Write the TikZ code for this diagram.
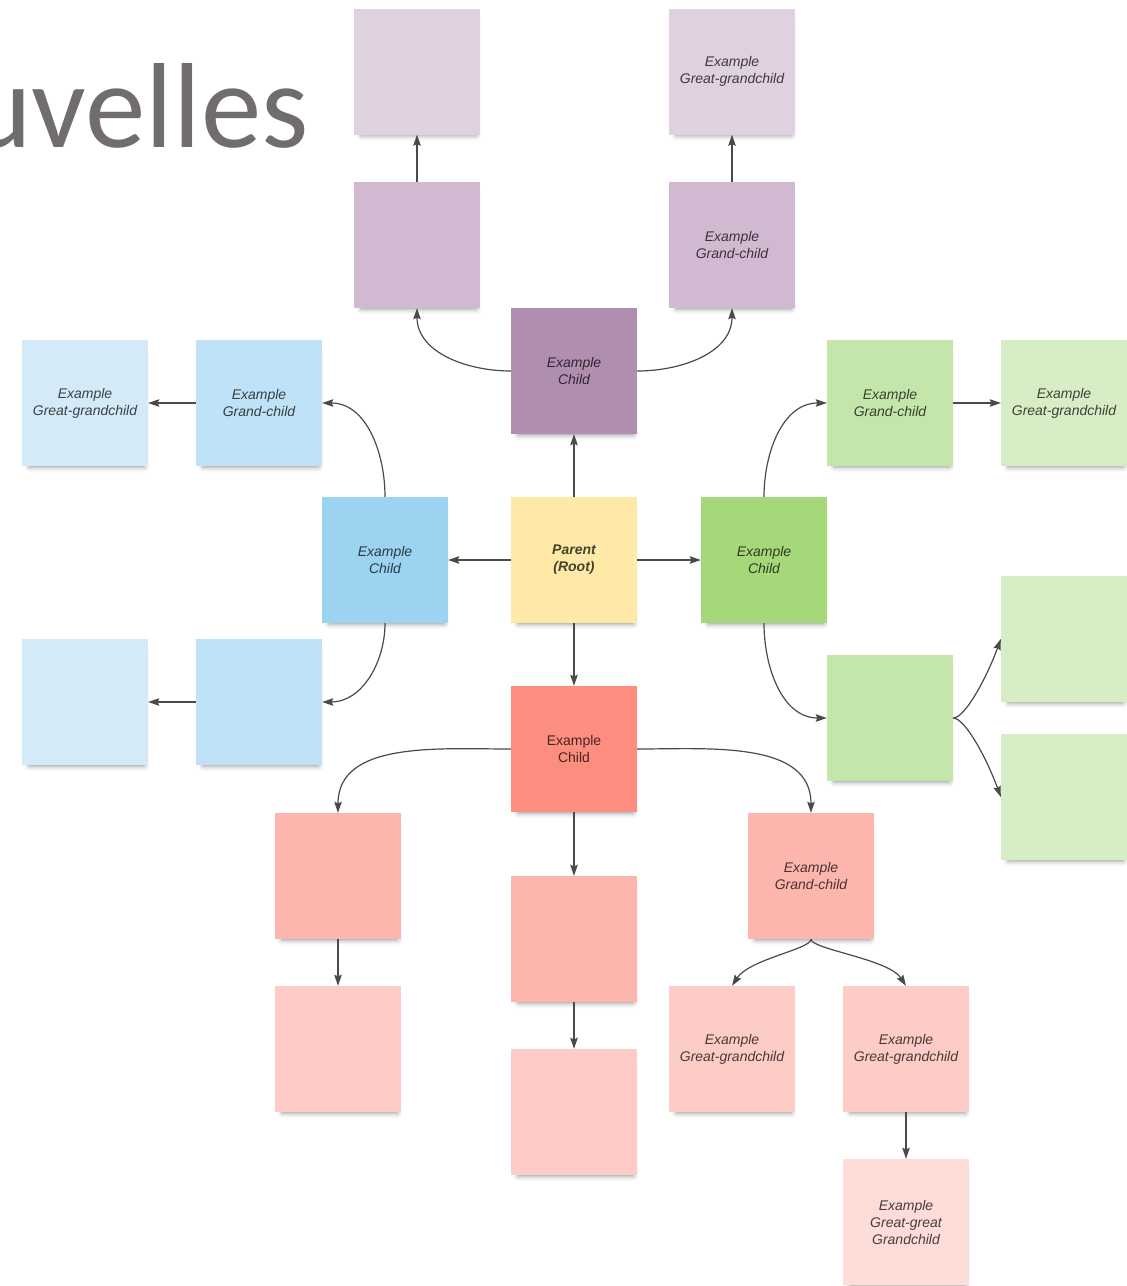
\documentclass[tikz,border=0pt]{standalone}
\usepackage{fontspec}
\setmainfont{Liberation Sans}
\newfontfamily\headingfont{Carlito}
\usetikzlibrary{arrows.meta,shadows.blur}

% palette
\definecolor{titlegray}{HTML}{716D6D}
\definecolor{linkgray}{HTML}{4A4A4A}
\definecolor{rootfill}{HTML}{FEE9A6}
\definecolor{purA}{HTML}{B08EB0}
\definecolor{purB}{HTML}{D2B9D2}
\definecolor{purC}{HTML}{DFD1E0}
\definecolor{bluA}{HTML}{9BD3F1}
\definecolor{bluB}{HTML}{BFE2F6}
\definecolor{bluC}{HTML}{D4EAF8}
\definecolor{grnA}{HTML}{A5D879}
\definecolor{grnB}{HTML}{C5E6AB}
\definecolor{grnC}{HTML}{D7EDC6}
\definecolor{redA}{HTML}{FD8D7E}
\definecolor{redB}{HTML}{FDB6AD}
\definecolor{redC}{HTML}{FDCCC7}
\definecolor{redD}{HTML}{FEDCD8}

\begin{document}
\begin{tikzpicture}[x=1pt,y=1pt,
  card/.style={minimum width=126pt,minimum height=126pt,inner sep=0pt,
    align=center,font=\fontsize{14}{17}\selectfont\itshape,
    text=black,text opacity=0.72,
    blur shadow={shadow xshift=2pt,shadow yshift=-7pt,
      shadow blur radius=5pt,shadow opacity=38,shadow scale=0.92}},
  link/.style={draw=linkgray,line width=1.2pt,
    -{Stealth[length=11pt,width=7.5pt,inset=1.5pt]}},
]
\useasboundingbox (0,0) rectangle (1127,-1286);

% heading (runs off the left edge)
\node[anchor=base west,inner sep=0pt,text=titlegray,
  font=\headingfont\fontsize{121}{121}\selectfont] (heading) at (-32,-147) {uvelles};

% root
\node[card,fill=rootfill,font=\fontsize{14}{17}\selectfont\bfseries\itshape] (root) at (574,-560) {Parent\\(Root)};

% purple branch
\node[card,fill=purA] (pc)   at (574,-371) {Example\\Child};
\node[card,fill=purB] (pml)  at (417,-245) {};
\node[card,fill=purB] (pmr)  at (732,-245) {Example\\Grand-child};
\node[card,fill=purC] (ptl)  at (417,-71.5) {};
\node[card,fill=purC] (ptr)  at (732,-71.5) {Example\\Great-grandchild};

% blue branch
\node[card,fill=bluA] (bc)   at (385,-560) {Example\\Child};
\node[card,fill=bluB] (bgc)  at (259,-403) {Example\\Grand-child};
\node[card,fill=bluC] (bggc) at (85,-403)  {Example\\Great-grandchild};
\node[card,fill=bluB] (blgc) at (259,-702) {};
\node[card,fill=bluC] (bll)  at (85,-702)  {};

% green branch
\node[card,fill=grnA] (gc)   at (764,-560)  {Example\\Child};
\node[card,fill=grnB] (ggc)  at (890,-403)  {Example\\Grand-child};
\node[card,fill=grnC] (gggc) at (1064,-403) {Example\\Great-grandchild};
\node[card,fill=grnB] (glgc) at (890,-718)  {};
\node[card,fill=grnC] (grt)  at (1064,-639) {};
\node[card,fill=grnC] (grb)  at (1064,-797) {};

% red branch
\node[card,fill=redA,font=\fontsize{14}{17}\selectfont] (rc) at (574,-749) {Example\\Child};
\node[card,fill=redB] (rlgc)  at (338,-876)  {};
\node[card,fill=redC] (rlggc) at (338,-1049) {};
\node[card,fill=redB] (rmgc)  at (574,-939)  {};
\node[card,fill=redC] (rmggc) at (574,-1112) {};
\node[card,fill=redB] (rrgc)  at (811,-876)  {Example\\Grand-child};
\node[card,fill=redC] (rg1)   at (732,-1049) {Example\\Great-grandchild};
\node[card,fill=redC] (rg2)   at (906,-1049) {Example\\Great-grandchild};
\node[card,fill=redD] (rggg)  at (906,-1222) {Example\\Great-great\\Grandchild};

% connectors from the root
\draw[link] (root.north) -- (pc.south);
\draw[link] (root.west)  -- (bc.east);
\draw[link] (root.east)  -- (gc.west);
\draw[link] (root.south) -- (rc.north);

% purple
\draw[link] (pc.west) to[out=180,in=-90] (pml.south);
\draw[link] (pc.east) to[out=0,in=-90]   (pmr.south);
\draw[link] (pml.north) -- (ptl.south);
\draw[link] (pmr.north) -- (ptr.south);

% blue
\draw[link] (bc.north) to[out=90,in=0]  (bgc.east);
\draw[link] (bgc.west) -- (bggc.east);
\draw[link] (bc.south) to[out=-90,in=0] (blgc.east);
\draw[link] (blgc.west) -- (bll.east);

% green
\draw[link] (gc.north) to[out=90,in=180]  (ggc.west);
\draw[link] (ggc.east) -- (gggc.west);
\draw[link] (gc.south) to[out=-90,in=180] (glgc.west);
\draw[link] (glgc.east) to[out=0,in=250,out distance=12pt,in distance=40pt] (grt.west);
\draw[link] (glgc.east) to[out=0,in=110,out distance=12pt,in distance=40pt] (grb.west);

% red
\draw[link] (rc.west) to[out=180,in=90] (rlgc.north);
\draw[link] (rc.east) to[out=0,in=90]   (rrgc.north);
\draw[link] (rc.south) -- (rmgc.north);
\draw[link] (rlgc.south) -- (rlggc.north);
\draw[link] (rmgc.south) -- (rmggc.north);
\draw[link] (rrgc.south) to[out=-90,in=57,out distance=10pt,in distance=32pt] (rg1.north);
\draw[link] (rrgc.south) to[out=-90,in=123,out distance=10pt,in distance=32pt] (rg2.north);
\draw[link] (rg2.south) -- (rggg.north);
\end{tikzpicture}
\end{document}
